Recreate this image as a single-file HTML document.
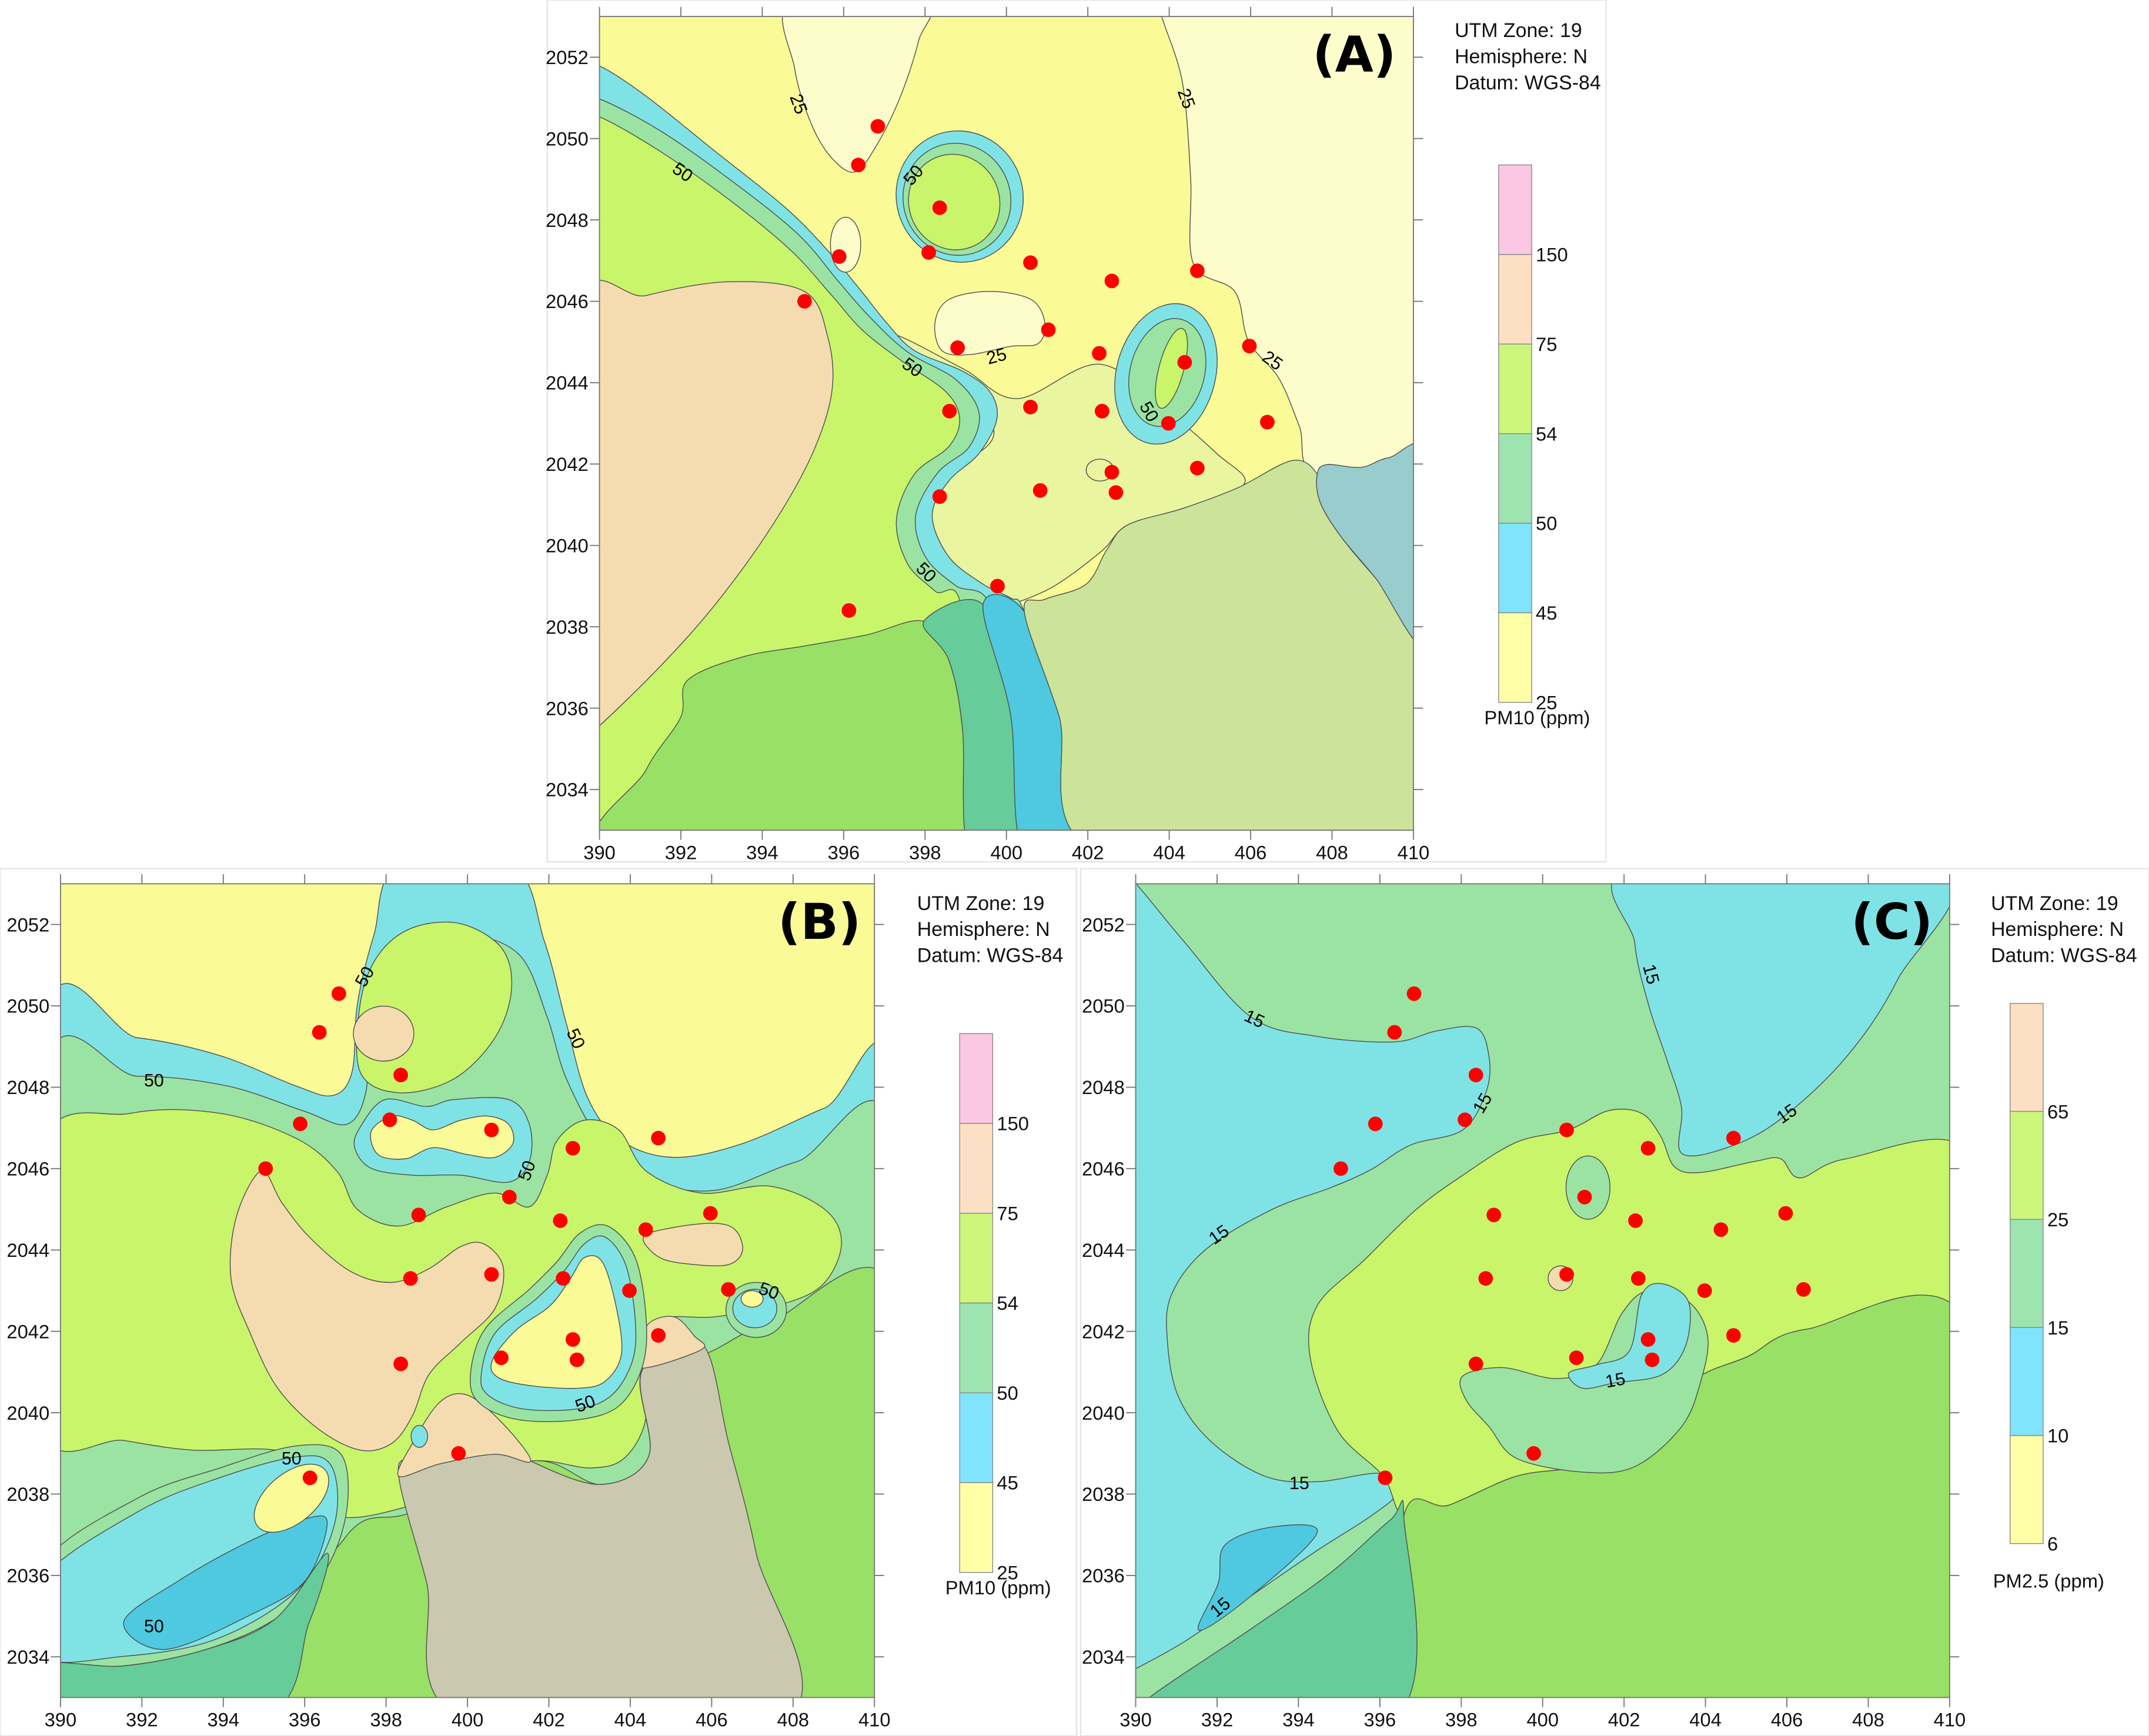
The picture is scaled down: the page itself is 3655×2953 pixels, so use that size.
<!DOCTYPE html>
<html><head><meta charset="utf-8"><style>
html,body{margin:0;padding:0;background:#fff;}
svg{display:block;font-family:"Liberation Sans",sans-serif;}
</style></head><body>
<svg id="fig" width="3655" height="2953" viewBox="0 0 1563 1263" preserveAspectRatio="none" xmlns="http://www.w3.org/2000/svg">
<rect x="0" y="0" width="1563" height="1263" fill="#ffffff"/>
<rect x="398" y="0" width="770" height="627" fill="#fff" stroke="#e4e4e4"/>
<rect x="0" y="632" width="783" height="631" fill="#fff" stroke="#e4e4e4"/>
<rect x="786" y="632" width="777" height="631" fill="#fff" stroke="#e4e4e4"/>
<g id="layers"></g>
</svg>
<script>
// ---- data ----
const stationX=[396.84,396.36,398.36,398.09,395.89,400.59,402.59,404.69,395.04,401.03,398.8,402.28,405.97,404.38,398.6,400.59,402.35,403.98,406.41,402.59,404.69,398.36,400.83,402.69,399.78,396.13];
const stationY=[2050.3,2049.35,2048.3,2047.2,2047.1,2046.95,2046.5,2046.75,2046.0,2045.3,2044.86,2044.72,2044.9,2044.5,2043.3,2043.4,2043.3,2043.0,2043.03,2041.8,2041.9,2041.2,2041.35,2041.3,2039.0,2038.4];
const xTicks=[390,392,394,396,398,400,402,404,406,408,410];
const yTicks=[2034,2036,2038,2040,2042,2044,2046,2048,2050,2052];
const pm10Levels=["150","75","54","50","45","25"];
const pm25Levels=["65","25","15","10","6"];

const NS="http://www.w3.org/2000/svg";
const root=document.getElementById('layers');
function mk(tag,attrs,parent){const e=document.createElementNS(NS,tag);for(const k in attrs)e.setAttribute(k,attrs[k]);(parent||root).appendChild(e);return e;}
function smooth(p){let d="M"+p[0][0]+","+p[0][1];const n=p.length;
 for(let i=0;i<n;i++){const p0=p[(i-1+n)%n],p1=p[i],p2=p[(i+1)%n],p3=p[(i+2)%n];
  const c1=[p1[0]+(p2[0]-p0[0])/6,p1[1]+(p2[1]-p0[1])/6],c2=[p2[0]-(p3[0]-p1[0])/6,p2[1]-(p3[1]-p1[1])/6];
  d+="C"+c1.join(",")+" "+c2.join(",")+" "+p2.join(",");}
 return d+"Z";}
const ST="#4d4d4d";
function region(g,name,pts,fill){const e=mk('path',{d:smooth(pts),fill:fill,stroke:ST,'stroke-width':0.6},g);
 
 return e;}
function ell(g,name,cx,cy,rx,ry,fill,rot){const e=mk('ellipse',{cx:cx,cy:cy,rx:rx,ry:ry,fill:fill,stroke:ST,'stroke-width':0.6,transform:'rotate('+(rot||0)+' '+cx+' '+cy+')'},g);
 
 return e;}
function lbl(g,t,x,y,rot,size){const e=mk('text',{x:x,y:y,'font-size':size||13,'text-anchor':'middle','dominant-baseline':'middle',transform:'rotate('+(rot||0)+' '+x+' '+y+')',fill:'#000'},g);e.textContent=t;
 
 return e;}

const Y="#fafa96",PALE="#fdfdcc",LIME="#c8f56a",TEAL="#9be3a2",BLUE="#7fe3e6",DBLUE="#4fc9e0",DTEAL="#66cc99",GREEN="#99e066",TAN="#f5dcb0",OLIVE="#cbe49a",GTEAL="#99cccc",GRAY="#cbc8b0",LGY="#eaf5a0";

function clipFor(id,ox,oy){const cp=mk('clipPath',{id:id});mk('rect',{x:ox,y:oy,width:592,height:592},cp);}

// ===== Panel A =====
clipFor('ca',436,12);
const gA=mk('g',{'clip-path':'url(#ca)'});


mk('rect',{x:436,y:12,width:592,height:592,fill:Y},gA);
region(gA,'pale-region-east',[[845,12],[860,60],[866,130],[868,192],[898,212],[908,248],[930,275],[945,310],[958,345],[1040,330],[1040,0],[845,0]],PALE);
region(gA,'light-green-zone',[[650,245],[700,268],[740,290],[800,265],[850,300],[885,330],[905,352],[860,370],[820,382],[800,402],[760,430],[720,440],[680,420],[668,380],[690,345],[722,310]],LGY);
region(gA,'band-45',[[436,48],[470,70],[520,110],[570,150],[600,180],[625,210],[645,235],[665,255],[700,270],[720,285],[725,305],[712,330],[690,350],[678,375],[690,405],[715,425],[735,435],[745,445],[770,520],[800,620],[420,620],[420,48]],BLUE);
region(gA,'band-50',[[436,72],[480,95],[530,130],[580,170],[610,205],[632,230],[660,256],[695,276],[712,300],[705,325],[682,344],[666,375],[673,405],[695,426],[720,440],[735,520],[745,620],[420,620],[420,72]],TEAL);
region(gA,'band-54',[[436,85],[480,110],[530,145],[575,182],[605,215],[627,240],[655,262],[688,285],[698,305],[690,325],[665,345],[652,378],[660,410],[680,430],[700,447],[705,620],[420,620],[420,85]],LIME);
region(gA,'tan-region-west',[[420,232],[470,215],[530,205],[585,212],[602,245],[605,285],[590,332],[560,385],[520,440],[480,485],[436,528],[420,540]],TAN);
region(gA,'lowland-green',[[446,620],[470,560],[495,522],[500,495],[540,478],[585,470],[630,462],[672,452],[690,480],[700,530],[705,620]],GREEN);
region(gA,'lowland-teal',[[672,452],[715,440],[735,520],[745,620],[705,620],[700,530],[690,480]],DTEAL);
region(gA,'lowland-blue',[[715,440],[745,445],[770,520],[800,620],[745,620],[735,520]],DBLUE);
region(gA,'lowland-olive',[[745,445],[760,436],[790,425],[805,400],[820,382],[860,370],[900,355],[940,335],[958,345],[960,365],[975,390],[1000,420],[1040,465],[1040,620],[800,620],[770,520]],OLIVE);
region(gA,'grey-teal-region',[[958,345],[965,338],[990,340],[1010,333],[1040,332],[1040,470],[1000,420],[975,390],[960,365]],GTEAL);
region(gA,'pale-lobe-north',[[576,0],[578,50],[590,90],[605,115],[622,125],[638,105],[655,70],[668,30],[672,0]],PALE);
ell(gA,'pale-spot',615,178,11,20,PALE);
region(gA,'pale-blob-center',[[680,235],[690,218],[720,212],[750,218],[760,235],[755,250],[735,252],[705,258],[685,255]],PALE);
ell(gA,'ring1-outer',698,143,46,48,BLUE,-20);ell(gA,'ring1-mid',696,145,39,41,TEAL,-20);ell(gA,'ring1-inner',694,147,33,35,LIME,-20);
ell(gA,'ring2-outer',848,272,36,52,BLUE,15);ell(gA,'ring2-mid',849,271,27,40,TEAL,15);ell(gA,'ring2-inner',852,268,9,30,LIME,15);
ell(gA,'pale-spot-2',800,342,10,8,LGY);
lbl(gA,'25',580,76,70);lbl(gA,'25',862,72,70);lbl(gA,'50',496,126,35);lbl(gA,'50',665,128,-50);lbl(gA,'50',663,268,35);lbl(gA,'25',725,260,-15);lbl(gA,'25',925,263,35);lbl(gA,'50',835,300,60);lbl(gA,'50',673,417,45);

// ===== Panel B =====
clipFor('cb',44,643);
const gB=mk('g',{'clip-path':'url(#cb)'});


mk('rect',{x:44,y:643,width:592,height:592,fill:Y},gB);
region(gB,'band-45',[[30,752],[100,755],[160,768],[215,790],[242,797],[256,780],[260,730],[272,680],[290,630],[372,630],[396,685],[412,745],[428,800],[452,830],[490,842],[540,832],[600,806],[650,788],[650,1250],[30,1250]],BLUE);
region(gB,'band-50',[[30,790],[100,783],[165,790],[220,808],[252,818],[266,795],[268,750],[278,712],[305,690],[340,680],[378,695],[398,740],[412,785],[438,832],[470,858],[520,866],[580,845],[650,828],[650,1250],[30,1250]],TEAL);
region(gB,'band-54',[[30,835],[95,810],[160,810],[215,828],[245,852],[260,880],[290,892],[325,878],[360,868],[385,878],[398,855],[405,830],[425,815],[450,822],[470,852],[510,868],[560,863],[600,880],[612,905],[598,935],[565,950],[520,958],[480,960],[465,985],[470,1030],[455,1060],[430,1068],[386,1063],[330,1080],[300,1095],[248,1103],[240,1070],[200,1055],[140,1055],[90,1048],[30,1038]],LIME);
region(gB,'lime-north',[[262,780],[262,730],[275,695],[300,675],[335,672],[365,690],[372,720],[360,755],[330,785],[290,795]],LIME);
ell(gB,'tan-spot-north',279,752,22,20,TAN);
region(gB,'tan-region-center',[[190,852],[205,875],[225,900],[255,925],[285,933],[312,923],[335,907],[352,905],[366,922],[360,952],[335,977],[312,1000],[300,1030],[285,1050],[262,1055],[232,1040],[202,1010],[182,970],[168,930],[172,885]],TAN);
region(gB,'blue-ring-peanut',[[262,820],[280,800],[310,805],[330,800],[370,800],[385,818],[385,845],[370,860],[335,855],[300,855],[270,850],[258,835]],BLUE);
region(gB,'yellow-peanut',[[270,823],[285,812],[300,815],[315,822],[335,815],[355,812],[370,818],[373,832],[360,842],[340,840],[315,835],[295,843],[275,840]],Y);
region(gB,'tan-lobe-east',[[468,900],[490,893],[520,890],[535,895],[540,910],[530,920],[505,920],[480,915]],TAN);
region(gB,'lowland-green',[[190,1250],[250,1120],[300,1100],[386,1063],[437,1080],[472,1059],[467,997],[513,985],[560,962],[650,940],[650,1250]],GREEN);
region(gB,'lowland-gray',[[290,1074],[300,1060],[330,1050],[360,1045],[386,1063],[437,1080],[472,1059],[467,997],[510,977],[530,1050],[550,1130],[571,1250],[337,1250],[310,1150]],GRAY);
region(gB,'tan-south',[[290,1074],[300,1050],[320,1020],[340,1015],[365,1035],[386,1063],[360,1058],[320,1065]],TAN);
region(gB,'tan-south-east',[[463,995],[470,965],[490,958],[505,972],[510,982]],TAN);
region(gB,'teal-ring-triangle',[[342,1003],[352,968],[385,938],[405,918],[422,897],[442,892],[462,915],[470,960],[467,995],[450,1023],[420,1033],[378,1033],[350,1022]],TEAL);
region(gB,'blue-ring-triangle',[[350,1000],[360,970],[390,945],[410,925],[425,905],[440,900],[455,920],[462,960],[460,990],[445,1015],[420,1025],[380,1025],[355,1015]],BLUE);
region(gB,'yellow-triangle',[[358,990],[375,968],[400,950],[415,930],[425,915],[438,918],[448,950],[452,985],[440,1005],[420,1010],[385,1008],[362,1002]],Y);
ell(gB,'teal-ring-east',550,953,22,20,TEAL);ell(gB,'blue-ring-east',549,952,16,14,BLUE);ell(gB,'yellow-spot-east',547,945,8,6,Y);
ell(gB,'blue-spot',305,1045,6,8,BLUE);
region(gB,'teal-ellipse-sw',[[30,1140],[100,1090],[160,1068],[215,1052],[248,1058],[252,1100],[235,1145],[200,1178],[150,1200],[90,1212],[30,1212]],TEAL);
region(gB,'blue-ellipse-sw',[[30,1150],[100,1100],[160,1075],[215,1060],[240,1065],[245,1100],[230,1140],[200,1170],[150,1195],[90,1205],[30,1205]],BLUE);
region(gB,'dark-blue-sw',[[90,1180],[130,1150],[180,1122],[222,1105],[238,1108],[222,1150],[182,1175],[120,1200]],DBLUE);
region(gB,'dark-teal-sw',[[30,1212],[90,1212],[150,1200],[200,1178],[238,1130],[225,1180],[190,1250],[30,1250]],DTEAL);
ell(gB,'yellow-ellipse-sw',212,1090,32,18,Y,-40);
lbl(gB,'50',266,711,-60);lbl(gB,'50',112,787,0);lbl(gB,'50',418,756,65);lbl(gB,'50',384,852,-70);lbl(gB,'50',559,940,20);lbl(gB,'50',426,1022,-20);lbl(gB,'50',212,1062,0);lbl(gB,'50',112,1184,0);

// ===== Panel C =====
clipFor('cc',826,643);
const gC=mk('g',{'clip-path':'url(#cc)'});


mk('rect',{x:826,y:643,width:592,height:592,fill:TEAL},gC);
region(gC,'blue-region-ne',[[1189,630],[1189,686],[1199,731],[1213,773],[1223,806],[1223,839],[1256,835],[1294,815],[1342,770],[1380,713],[1413,630]],BLUE);
region(gC,'blue-region-west',[[812,630],[828,645],[862,686],[910,740],[958,754],[1014,758],[1045,750],[1074,748],[1083,769],[1081,794],[1064,822],[1026,833],[997,851],[968,864],[925,880],[877,909],[852,942],[849,975],[857,1016],[881,1049],[920,1074],[958,1078],[1004,1072],[1016,1086],[997,1103],[958,1128],[910,1161],[862,1194],[826,1214],[812,1220]],BLUE);
region(gC,'dark-blue-sw',[[886,1152],[891,1124],[925,1111],[958,1115],[910,1161],[872,1186]],DBLUE);
region(gC,'lime-region',[[953,988],[958,950],[992,917],[1030,880],[1064,855],[1103,831],[1141,822],[1170,808],[1194,810],[1208,827],[1218,849],[1237,853],[1276,845],[1295,843],[1309,857],[1343,843],[1430,837],[1430,963],[1314,967],[1271,987],[1232,1004],[1189,1045],[1151,1066],[1103,1074],[1054,1095],[1021,1103],[1006,1074],[973,1041]],LIME);
region(gC,'lowland-green',[[1021,1103],[1054,1095],[1103,1074],[1151,1066],[1189,1045],[1232,1004],[1271,987],[1314,967],[1430,963],[1430,1250],[1014,1250]],GREEN);
region(gC,'dark-teal-sw',[[826,1250],[836,1235],[910,1185],[968,1144],[1011,1106],[1021,1103],[1014,1250]],DTEAL);
region(gC,'teal-ring',[[1064,1001],[1093,995],[1132,1003],[1161,993],[1180,955],[1199,939],[1228,947],[1242,972],[1237,1005],[1223,1038],[1189,1067],[1151,1071],[1103,1061],[1083,1038],[1066,1018]],TEAL);
region(gC,'blue-inner',[[1141,999],[1161,993],[1185,983],[1194,942],[1209,934],[1228,947],[1226,979],[1209,1000],[1175,1006],[1151,1010]],BLUE);
ell(gC,'teal-spot',1155,864,16,23,TEAL);
ell(gC,'tan-spot',1135,930,9,9,TAN);
lbl(gC,'15',1200,709,75);lbl(gC,'15',912,742,25);lbl(gC,'15',1079,803,-60);lbl(gC,'15',1300,811,-35);lbl(gC,'15',887,899,-35);lbl(gC,'15',945,1080,0);lbl(gC,'15',1175,1005,-10);lbl(gC,'15',888,1170,-40);

// ===== axes, stations =====
function axes(ox,oy,key){
 const ax=mk('g',{});
 
 
 mk('rect',{x:ox,y:oy,width:592,height:592,fill:'none',stroke:'#777','stroke-width':0.8},ax);
 const sx=v=>ox+(v-390)*29.6, sy=v=>oy+(2053-v)*29.6;
 xTicks.forEach(v=>{const x=sx(v);
  mk('line',{x1:x,y1:oy+592,x2:x,y2:oy+599,stroke:'#777','stroke-width':0.8},ax);
  mk('line',{x1:x,y1:oy,x2:x,y2:oy-7,stroke:'#777','stroke-width':0.8},ax);
  const t=mk('text',{x:x,y:oy+613,'font-size':14,'text-anchor':'middle',fill:'#111'},ax);t.textContent=v;
  
  });
 yTicks.forEach(v=>{const y=sy(v);
  mk('line',{x1:ox-7,y1:y,x2:ox,y2:y,stroke:'#777','stroke-width':0.8},ax);
  mk('line',{x1:ox+592,y1:y,x2:ox+599,y2:y,stroke:'#777','stroke-width':0.8},ax);
  const t=mk('text',{x:ox-8,y:y+5,'font-size':14,'text-anchor':'end',fill:'#111'},ax);t.textContent=v;
  
  });
 stationX.forEach((v,i)=>{const c=mk('circle',{cx:sx(v),cy:sy(stationY[i]),r:5.3,fill:'#ff0000'},ax);
  
  });
}
axes(436,12,'a');axes(44,643,'b');axes(826,643,'c');

function title(x,y,t){const e=mk('text',{x:x,y:y,'font-size':36,'font-weight':'bold','text-anchor':'middle',fill:'#000','font-family':'"DejaVu Sans","Liberation Sans",sans-serif'});e.textContent=t;
 
 }
title(985,52,'(A)');title(596,683,'(B)');title(1376,683,'(C)');
function datum(x,y){['UTM Zone: 19','Hemisphere: N','Datum: WGS-84'].forEach((s,i)=>{const e=mk('text',{x:x,y:y+i*19,'font-size':14.5,fill:'#111'});e.textContent=s;
 
 });}
datum(1058,27);datum(667,662);datum(1448,662);

const pm10Colors=["#fbc8e4","#fde0c4","#ccf77a","#9ee4b0","#80e4fc","#ffffa8"];
const pm25Colors=["#fde0c4","#ccf77a","#9ee4b0","#80e4fc","#ffffa8"];
function colorbar(x,top,bottom,labels,colors,unit,unitY,key){
 const g=mk('g',{});
 
 
 const n=colors.length,h=(bottom-top)/n;
 colors.forEach((c,i)=>{mk('rect',{x:x,y:top+i*h,width:24,height:h,fill:c,stroke:'#888','stroke-width':0.6},g);});
 labels.forEach((l,i)=>{const t=mk('text',{x:x+27,y:top+(i+1)*h+5,'font-size':14,fill:'#111'},g);t.textContent=l;
  
  });
 const u=mk('text',{x:x+28,y:unitY,'font-size':14,'text-anchor':'middle',fill:'#111'},g);u.textContent=unit;
 
 
}
colorbar(1090,120,511,pm10Levels,pm10Colors,'PM10 (ppm)',527,'a');
colorbar(698,752,1144,pm10Levels,pm10Colors,'PM10 (ppm)',1160,'b');
colorbar(1462,730,1123,pm25Levels,pm25Colors,'PM2.5 (ppm)',1155,'c');
</script>
</body></html>
